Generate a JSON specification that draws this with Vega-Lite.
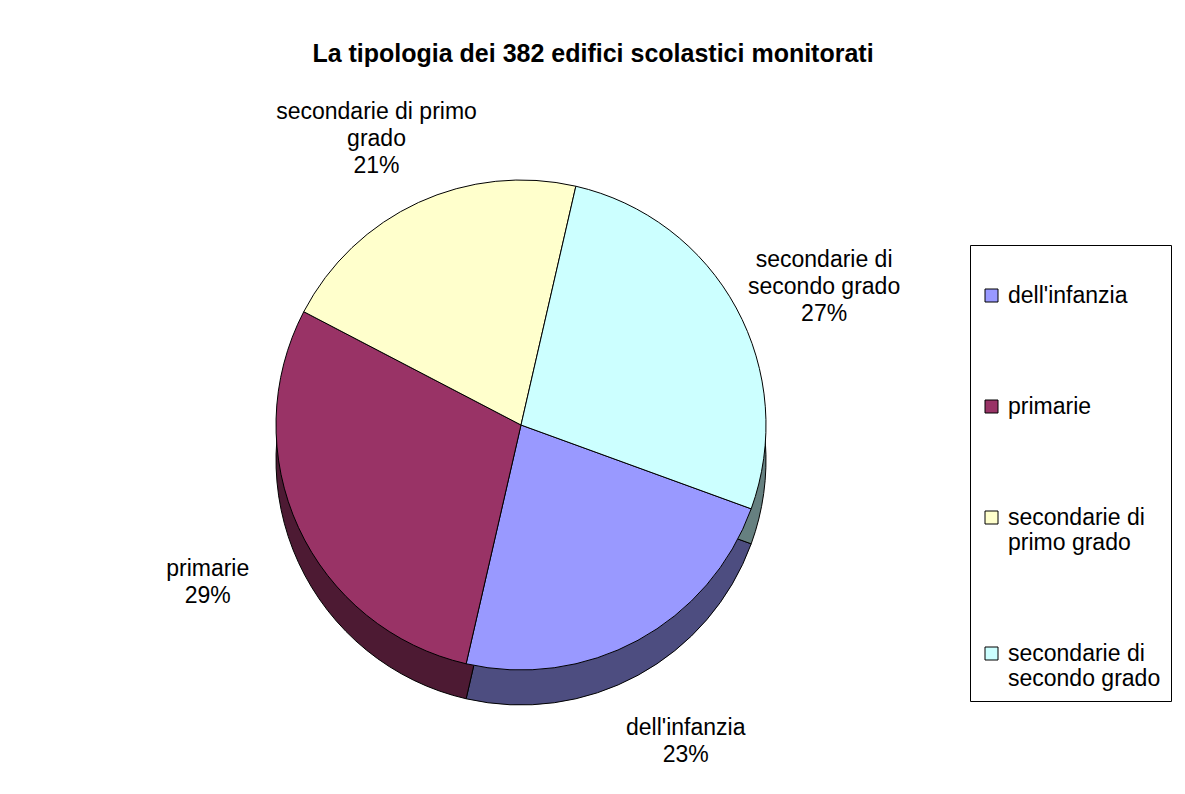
{
  "$schema": "https://vega.github.io/schema/vega-lite/v6.json",
  "width": 1042,
  "height": 700,
  "autosize": {"type": "none"},
  "padding": {"left": 0, "top": 75, "right": 143, "bottom": 19},
  "background": "white",
  "config": {"view": {"stroke": null}, "font": "Liberation Sans"},
  "title": {
    "text": "La tipologia dei 382 edifici scolastici monitorati",
    "fontSize": 25,
    "fontWeight": "bold",
    "font": "Liberation Sans",
    "color": "black",
    "anchor": "middle",
    "dx": 72,
    "offset": 8
  },
  "data": {
    "values": [
      {"tipo": "dell'infanzia", "n": 88, "riga": "dell'infanzia"},
      {"tipo": "primarie", "n": 111, "riga": "primarie"},
      {"tipo": "secondarie di primo grado", "n": 80, "riga": "secondarie di primo|grado"},
      {"tipo": "secondarie di secondo grado", "n": 103, "riga": "secondarie di|secondo grado"}
    ]
  },
  "transform": [
    {"joinaggregate": [{"op": "sum", "field": "n", "as": "tot"}]},
    {"calculate": "split(datum.riga + '|' + format(datum.n / datum.tot, '.0%'), '|')", "as": "etichetta"}
  ],
  "layer": [
    {
      "mark": {"type": "arc", "outerRadius": 245, "yOffset": 35, "stroke": "black", "strokeWidth": 1},
      "encoding": {
        "theta": {"field": "n", "type": "quantitative", "stack": true, "scale": {"range": [1.92, 8.2032]}},
        "color": {
          "field": "tipo",
          "type": "nominal",
          "scale": {
            "domain": ["dell'infanzia", "primarie", "secondarie di primo grado", "secondarie di secondo grado"],
            "range": ["#4D4D80", "#4D1A33", "#808066", "#668080"]
          },
          "legend": null
        }
      }
    },
    {
      "mark": {"type": "arc", "outerRadius": 245, "stroke": "black", "strokeWidth": 1},
      "encoding": {
        "theta": {"field": "n", "type": "quantitative", "stack": true},
        "color": {
          "field": "tipo",
          "type": "nominal",
          "scale": {
            "domain": ["dell'infanzia", "primarie", "secondarie di primo grado", "secondarie di secondo grado"],
            "range": ["#9999FF", "#993366", "#FFFFCC", "#CCFFFF"]
          },
          "legend": {
            "orient": "none",
            "legendX": 970,
            "legendY": 170,
            "title": " ",
            "titleFontSize": 12,
            "titlePadding": 17,
            "strokeColor": "black",
            "fillColor": "white",
            "padding": 10,
            "symbolType": "square",
            "symbolSize": 169,
            "symbolStrokeColor": "black",
            "symbolStrokeWidth": 1,
            "labelFont": "Liberation Sans",
            "labelFontSize": 23,
            "labelColor": "black",
            "labelOffset": 5,
            "labelLimit": 300,
            "rowPadding": 87,
            "labelExpr": "datum.label == 'secondarie di primo grado' ? ['secondarie di', 'primo grado'] : datum.label == 'secondarie di secondo grado' ? ['secondarie di', 'secondo grado'] : datum.label"
          }
        }
      }
    },
    {
      "mark": {"type": "text", "radius": 345, "fontSize": 23, "lineHeight": 27, "font": "Liberation Sans", "color": "black"},
      "encoding": {
        "theta": {"field": "n", "type": "quantitative", "stack": true},
        "text": {"field": "etichetta"}
      }
    }
  ],
  "resolve": {"scale": {"color": "independent"}}
}
